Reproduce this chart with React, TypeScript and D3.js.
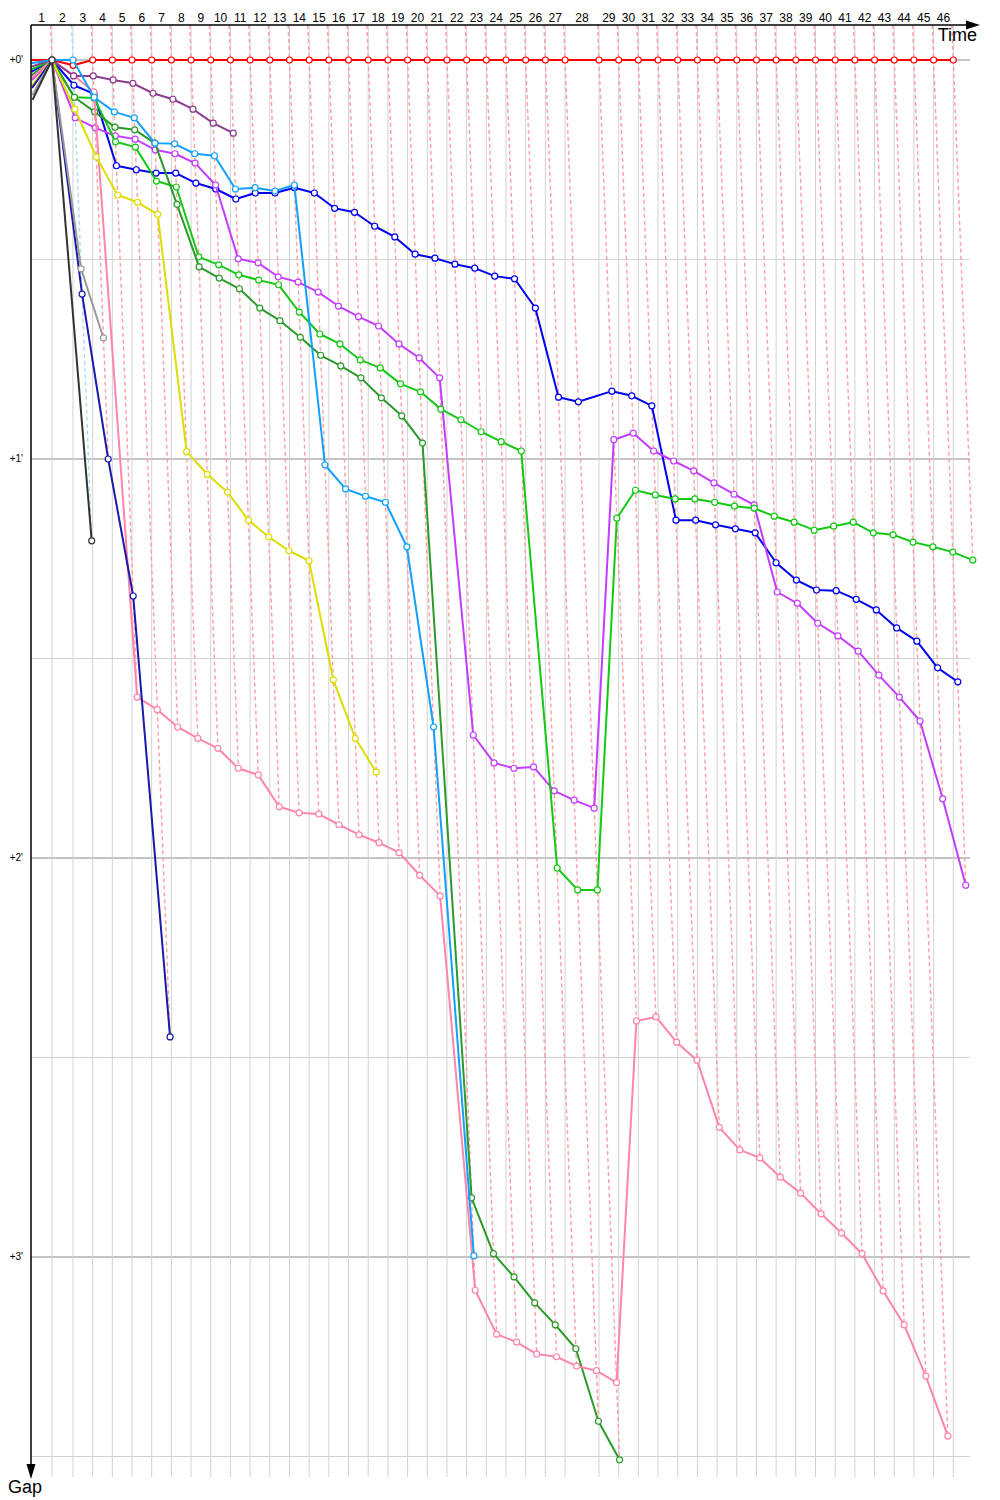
import React from "react"
import * as d3 from "d3"

// leader lap durations in seconds (laps 1..46), lap 28 was slow
const lapDurations = [
    81, 81, 76, 76, 76, 76, 76, 76, 76, 76,
    76, 76, 76, 76, 76, 76, 76, 76, 76, 76,
    76, 76, 76, 76, 76, 76, 76, 131, 76, 76,
    76, 76, 76, 76, 76, 76, 76, 76, 76, 76,
    76, 76, 76, 76, 76, 76,
]
const lapLabels = d3.range(1, 47)
const gapTicks = [0, 30, 60, 90, 120, 150, 180, 210]

// gap to leader in seconds, index = lap (0 = start)
const redGaps = [
    0, 0, 0.8, 0, 0, 0, 0, 0, 0, 0, 0, 0, 0, 0, 0, 0, 0, 0, 0, 0, 0, 0, 0, 0,
    0, 0, 0, 0, 0, 0, 0, 0, 0, 0, 0, 0, 0, 0, 0, 0, 0, 0, 0, 0, 0, 0, 0,
]
const lightBlueGaps = [0.5, 0, 0, 5.6, 7.8, 8.7, 12.5, 12.6, 14.1, 14.4, 19.4, 19.2, 19.7, 18.8, 60.9, 64.5, 65.6, 66.5, 73.2, 100.3, 179.8]
const purpleGaps = [1.0, 0, 2.4, 2.4, 3.0, 3.5, 5.0, 5.9, 7.4, 9.5, 11.0]
const blueGaps = [
    1.8, 0, 3.8, 5.1, 15.9, 16.5, 17.0, 17.0, 18.5, 19.4, 20.9, 20.0, 20.0, 19.2, 20.0, 22.3,
    22.9, 25.0, 26.6, 29.2, 29.8, 30.7, 31.3, 32.5, 32.9, 37.3, 50.7, 51.4, 49.8, 50.5, 52.0,
    69.2, 69.2, 69.9, 70.5, 71.1, 75.6, 78.2, 79.7, 79.8, 81.1, 82.7, 85.4, 87.4, 91.4, 93.5,
]
const violetGaps = [
    3.0, 0, 8.7, 10.2, 11.4, 11.9, 13.5, 14.1, 15.5, 18.8, 29.9, 30.5, 32.6, 33.4, 34.9, 37.0,
    38.6, 40.0, 42.7, 44.8, 47.8, 101.5, 105.7, 106.5, 106.3, 109.9, 111.3, 112.5, 57.1, 56.1,
    58.8, 60.3, 61.8, 63.6, 65.3, 66.9, 80.0, 81.7, 84.7, 86.6, 88.9, 92.5, 95.8, 99.4, 111.1, 124.1,
]
const greenGaps = [
    1.4, 0, 5.6, 5.7, 12.3, 13.1, 18.2, 19.1, 29.6, 30.8, 32.3, 33.1, 33.8, 37.9, 41.2, 42.7,
    45.1, 46.3, 48.7, 49.9, 52.5, 54.1, 55.9, 57.4, 58.8, 121.5, 124.8, 124.8, 68.9, 64.7, 65.4,
    66.0, 66.0, 66.5, 67.1, 67.4, 68.6, 69.5, 70.7, 70.1, 69.5, 71.1, 71.4, 72.5, 73.2, 74.0, 75.2,
]
const darkGreenGaps = [
    2.3, 0, 5.6, 7.8, 10.1, 10.5, 12.5, 21.7, 31.1, 32.8, 34.4, 37.3, 39.2, 41.7, 44.4, 46.0,
    47.8, 50.8, 53.5, 57.6, 171.1, 179.5, 183.0, 186.9, 190.2, 193.8, 204.7, 210.5,
]
const pinkGaps = [
    2.7, 0, 2.3, 4.8, 95.8, 97.7, 100.3, 102.0, 103.5, 106.5, 107.5, 112.3, 113.2, 113.4, 115.0,
    116.5, 117.7, 119.2, 122.6, 125.7, 185.0, 191.6, 192.8, 194.6, 195.0, 196.4, 197.1, 198.9,
    144.5, 143.9, 147.7, 150.4, 160.5, 163.9, 165.1, 168.0, 170.4, 173.5, 176.4, 179.5, 185.1,
    190.2, 197.9, 206.9,
]
const yellowGaps = [3.8, 0, 7.4, 14.6, 20.3, 21.4, 23.2, 58.9, 62.3, 65.0, 69.2, 71.7, 73.8, 75.3, 93.2, 102.0, 107.1]
const grayGaps = [5.3, 0, 31.4, 41.8]
const navyGaps = [4.2, 0, 35.2, 60.0, 80.6, 146.9]
const blackGaps = [6.0, 0, 72.3]

const seriesTable = [
    { color: "#ff0000", gaps: redGaps },
    { color: "#0000ee", gaps: blueGaps },
    { color: "#c43cff", gaps: violetGaps },
    { color: "#14c814", gaps: greenGaps },
    { color: "#2a9a2a", gaps: darkGreenGaps },
    { color: "#ff85aa", gaps: pinkGaps },
    { color: "#8e3a8e", gaps: purpleGaps },
    { color: "#12a0ff", gaps: lightBlueGaps },
    { color: "#dddd00", gaps: yellowGaps },
    { color: "#1a1aa8", gaps: navyGaps },
    { color: "#999999", gaps: grayGaps },
    { color: "#333333", gaps: blackGaps },
]

const cum = [0]
lapDurations.forEach(d => cum.push(cum[cum.length - 1] + d))

const xScale = d3.scaleLinear().domain([0, cum[cum.length - 1]]).range([31, 953.3])
const yScale = d3.scaleLinear().domain([0, 180]).range([60, 1257])
const topY = 25
const bottomY = 1477
const rightX = 970

const px = (lap: number, gap: number) => xScale(cum[lap] + gap)

const App = () => {
    const line = d3.line<[number, number]>()
        .x(d => px(d[0], d[1]))
        .y(d => yScale(d[1]))

    // dashed "same lap" lines, coloured after the lap leader
    const lapLines = lapLabels.map(lap => {
        let leader = seriesTable[0]
        let best = Infinity
        let worst = 0
        seriesTable.forEach(s => {
            if (s.gaps.length > lap) {
                if (s.gaps[lap] < best) { best = s.gaps[lap]; leader = s }
                worst = Math.max(worst, s.gaps[lap])
            }
        })
        const g0 = yScale.invert(topY)
        return {
            lap,
            x1: px(lap, g0), y1: topY,
            x2: px(lap, worst), y2: yScale(worst),
            color: d3.interpolateRgb(leader.color, "#ffffff")(0.62),
        }
    })

    return (
        <svg width={1000} height={1500} style={{ position: "absolute", left: 0, top: 0, background: "#fff" }}>
            {/* horizontal grid */}
            {gapTicks.map(g => (
                <line key={"h" + g} x1={31} x2={rightX} y1={yScale(g)} y2={yScale(g)}
                    stroke={g % 60 === 0 ? "#888" : "#d2d2d2"} strokeWidth={1} />
            ))}
            {/* leader lap crossings */}
            {lapLabels.map(lap => (
                <line key={"v" + lap} x1={xScale(cum[lap])} x2={xScale(cum[lap])} y1={topY} y2={bottomY}
                    stroke="#d2d2d2" strokeWidth={1} />
            ))}
            {lapLines.map(l => (
                <line key={"d" + l.lap} x1={l.x1} y1={l.y1} x2={l.x2} y2={l.y2}
                    stroke={l.color} strokeWidth={1.4} strokeDasharray="4,3" />
            ))}
            {/* series */}
            {seriesTable.map((s, i) => {
                const pts = s.gaps.map((g, lap) => [lap, g] as [number, number])
                return (
                    <g key={"s" + i}>
                        <path d={line(pts) || ""} fill="none" stroke={s.color} strokeWidth={2} strokeLinejoin="round" />
                        {pts.slice(1).map(p => (
                            <circle key={p[0]} cx={px(p[0], p[1])} cy={yScale(p[1])} r={3}
                                fill="#fff" stroke={s.color} strokeWidth={1.2} />
                        ))}
                    </g>
                )
            })}
            {/* axes */}
            <line x1={31} x2={970} y1={topY} y2={topY} stroke="#000" strokeWidth={1.5} />
            <path d={`M966,${topY - 4.5}L980,${topY}L966,${topY + 4.5}Z`} fill="#000" />
            <line x1={31} x2={31} y1={topY} y2={1468} stroke="#000" strokeWidth={1.5} />
            <path d={`M26.5,1464L31,1479L35.5,1464Z`} fill="#000" />
            {lapLabels.map(lap => (
                <text key={"t" + lap} x={xScale((cum[lap - 1] + cum[lap]) / 2)} y={22}
                    textAnchor="middle" fontSize={12} fontFamily="Liberation Sans, Arial, sans-serif">{lap}</text>
            ))}
            {gapTicks.filter(g => g % 60 === 0).map(g => (
                <text key={"g" + g} x={23} y={yScale(g) + 3} textAnchor="end" fontSize={10}
                    fontFamily="Liberation Sans, Arial, sans-serif">{`+${g / 60}'`}</text>
            ))}
            <text x={977} y={41} textAnchor="end" fontSize={18}
                fontFamily="Liberation Sans Narrow, Liberation Sans, sans-serif">Time</text>
            <text x={25} y={1493} textAnchor="middle" fontSize={18}
                fontFamily="Liberation Sans Narrow, Liberation Sans, sans-serif">Gap</text>
        </svg>
    )
}

export default App
